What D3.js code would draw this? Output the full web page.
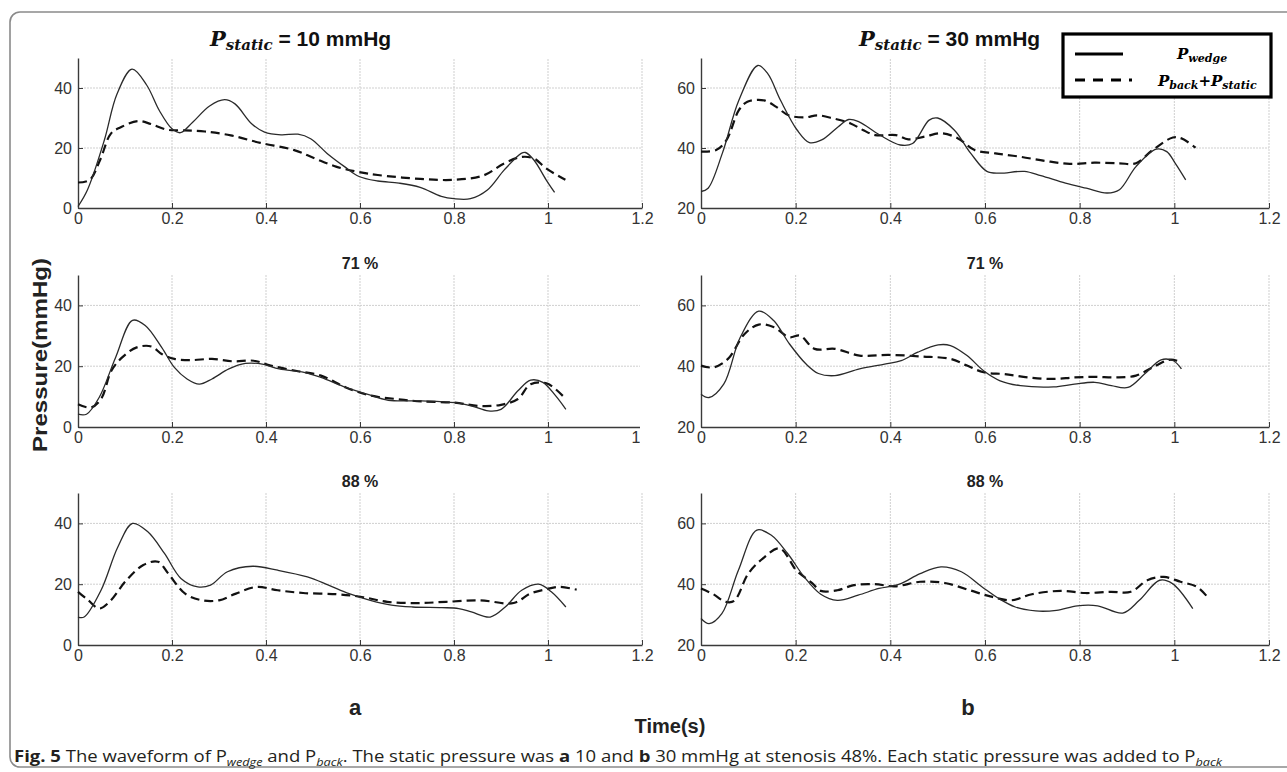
<!DOCTYPE html>
<html><head><meta charset="utf-8">
<script src="https://cdn.jsdelivr.net/npm/d3@7"></script>
<style>body{margin:0;background:#fff}svg{display:block}</style>
</head><body>
<svg id="c" width="1287" height="772"></svg>
<script>
// ---------- DATA ----------
const timeTicks = [0, 0.2, 0.4, 0.6, 0.8, 1, 1.2];
const yTicksA = [0, 20, 40];
const yTicksB = [20, 40, 60];
const yDomainA = [0, 50];
const yDomainB = [20, 70];
const rowTitles = ["", "71 %", "88 %"];
const staticTitles = ["10 mmHg", "30 mmHg"];
const legendLabels = [["P", "wedge"], ["P", "back", "+P", "static"]];

const a1Wedge = [[0,0.5],[0.02,6],[0.056,22.6],[0.083,38],[0.115,46.3],[0.146,41],[0.173,32.5],[0.2,26.4],[0.218,25.1],[0.244,28.6],[0.28,34],[0.312,36.1],[0.334,34.7],[0.37,28],[0.397,25.3],[0.432,24.4],[0.468,24.6],[0.495,23.1],[0.53,18.2],[0.567,13.8],[0.598,10.5],[0.638,9],[0.683,8.3],[0.728,6.9],[0.773,3.9],[0.8,3.1],[0.835,3.1],[0.871,6],[0.907,12.7],[0.943,18.2],[0.952,18.5],[0.97,16],[0.996,9.4],[1.014,5.2]];
const a1Back = [[0,8.5],[0.025,9.4],[0.047,16],[0.07,24.8],[0.092,27],[0.128,29],[0.155,28],[0.19,26.1],[0.226,25.9],[0.27,25.5],[0.325,24.2],[0.388,21.7],[0.46,19.3],[0.504,16.5],[0.549,13.8],[0.594,12.1],[0.638,11],[0.728,9.7],[0.8,9.4],[0.862,10.8],[0.907,14.9],[0.943,17],[0.97,16.5],[0.996,13.2],[1.037,9.4]];
const b1Wedge = [[0,25.5],[0.015,26.6],[0.045,38.2],[0.08,55.9],[0.12,67.5],[0.141,64.8],[0.168,55.9],[0.203,46],[0.229,41.8],[0.255,42.7],[0.29,47.1],[0.312,49.5],[0.334,48.7],[0.377,44.4],[0.421,41],[0.447,41.5],[0.482,49.3],[0.5,50],[0.535,46],[0.57,38.2],[0.604,32.2],[0.63,31.6],[0.683,32.2],[0.718,30.8],[0.77,28.3],[0.814,26.6],[0.858,25],[0.884,26.1],[0.919,33.8],[0.962,39.6],[0.984,38.8],[1.002,34.9],[1.024,29.4]];
const b1Back = [[0,38.8],[0.032,39.3],[0.054,42.7],[0.08,52.6],[0.098,55.4],[0.133,55.9],[0.159,53.7],[0.185,50.9],[0.22,50.2],[0.246,50.9],[0.281,49.8],[0.316,48.2],[0.342,46],[0.368,44.3],[0.412,44.3],[0.438,42.9],[0.473,43.8],[0.508,44.9],[0.543,43.2],[0.578,39.3],[0.622,38.2],[0.674,37.1],[0.727,35.7],[0.779,34.7],[0.831,35.1],[0.884,34.9],[0.919,34.9],[0.954,39.3],[0.997,43.5],[1.015,43.2],[1.045,40.1]];
const a2Wedge = [[0,4.2],[0.018,4.2],[0.045,9.7],[0.08,22.9],[0.116,35.1],[0.143,33.4],[0.178,26.2],[0.205,19.6],[0.232,15.8],[0.258,14.1],[0.285,15.8],[0.321,19.1],[0.356,20.9],[0.392,20.7],[0.428,19.1],[0.481,18],[0.517,16.3],[0.57,13],[0.615,10.8],[0.66,8.8],[0.731,8.6],[0.802,8],[0.838,6.9],[0.873,5.3],[0.9,5.8],[0.936,11.9],[0.963,15.4],[0.989,14.7],[1.016,10.3],[1.038,5.8]];
const a2Back = [[0,7.5],[0.027,6.4],[0.049,9.2],[0.071,18.5],[0.094,22.9],[0.125,26.2],[0.156,26.5],[0.178,24],[0.205,22.4],[0.241,22],[0.285,22.4],[0.33,21.6],[0.374,21.8],[0.41,20.2],[0.463,18.5],[0.517,16.9],[0.57,13],[0.624,10.3],[0.677,9.2],[0.731,8.4],[0.802,8],[0.856,6.9],[0.9,7.3],[0.936,9.2],[0.963,14.1],[0.998,14.3],[1.038,9.2]];
const b2Wedge = [[0,30.8],[0.017,29.7],[0.048,34.1],[0.083,49.5],[0.122,58.1],[0.153,55.1],[0.187,47.3],[0.222,40.7],[0.248,37.6],[0.283,36.9],[0.335,39.1],[0.388,40.7],[0.423,41.8],[0.458,44.6],[0.501,47],[0.527,46.8],[0.562,43.5],[0.597,38.5],[0.632,35.2],[0.675,33.6],[0.745,33.2],[0.789,34.1],[0.832,34.7],[0.867,33.6],[0.902,33],[0.937,37.4],[0.972,42.1],[0.998,41.8],[1.015,39.1]];
const b2Back = [[0,40.2],[0.026,39.6],[0.057,42.4],[0.092,50.6],[0.122,53.7],[0.153,52.9],[0.187,49.5],[0.209,50.1],[0.24,45.7],[0.283,45.7],[0.335,43.5],[0.397,43.7],[0.466,43.2],[0.527,42.4],[0.562,40.2],[0.597,38],[0.641,37.4],[0.693,36.3],[0.745,35.8],[0.789,36.3],[0.832,36.5],[0.876,36.3],[0.919,36.9],[0.954,39.6],[0.989,42.1],[1.006,41.8]];
const a3Wedge = [[0,9.2],[0.013,9.2],[0.049,18],[0.085,32.3],[0.116,40],[0.148,37.3],[0.184,30.1],[0.219,21.9],[0.255,19.1],[0.282,19.7],[0.318,24.1],[0.372,25.9],[0.425,24.6],[0.488,22.4],[0.533,19.7],[0.577,16.9],[0.622,14.7],[0.667,13.1],[0.712,12.5],[0.774,12.3],[0.81,12],[0.837,10.9],[0.877,9.2],[0.909,12.5],[0.944,18],[0.98,20],[1.007,17.5],[1.038,12.5]];
const a3Back = [[0,17.5],[0.022,14.7],[0.045,12],[0.067,14.2],[0.103,21.3],[0.139,26.3],[0.17,27.4],[0.192,23.5],[0.228,16.9],[0.264,14.7],[0.3,14.7],[0.336,16.9],[0.38,19.1],[0.425,18],[0.479,17.1],[0.551,16.7],[0.604,15.8],[0.658,14.2],[0.721,13.8],[0.783,14.2],[0.855,14.7],[0.927,13.8],[0.962,16.9],[0.998,18.4],[1.025,19.1],[1.061,18.2]];
const b3Wedge = [[0,28.7],[0.017,27],[0.044,30.3],[0.079,44.6],[0.118,57.8],[0.148,56.2],[0.183,50.1],[0.218,42.4],[0.253,36.7],[0.288,34.7],[0.332,36.4],[0.376,38.6],[0.419,40],[0.463,43.5],[0.507,45.7],[0.55,44.1],[0.594,39.1],[0.629,35.3],[0.664,32.5],[0.707,31.2],[0.751,31.4],[0.795,32.9],[0.838,32.9],[0.891,30.5],[0.926,34.7],[0.969,41.3],[0.996,40.2],[1.039,32]];
const b3Back = [[0,38.6],[0.026,36.7],[0.052,34.2],[0.07,34.5],[0.1,43.5],[0.131,48.5],[0.166,51.8],[0.201,44.6],[0.218,42.4],[0.236,40.2],[0.253,37.8],[0.288,38],[0.323,39.7],[0.367,40],[0.41,39.3],[0.463,40.8],[0.515,40.4],[0.568,38],[0.611,36],[0.655,34.7],[0.699,36.7],[0.76,37.8],[0.812,37.1],[0.865,37.5],[0.908,37.5],[0.943,41.3],[0.978,42.4],[1.013,40.8],[1.048,39.1],[1.07,35.8]];

// ---------- LAYOUT ----------
const svg = d3.select("#c");
const SANS = "'Liberation Sans', Arial, Helvetica, sans-serif";
const SERIF = "'DejaVu Serif', 'Liberation Serif', serif";
const colX = [[78, 642], [701, 1269]];
const rowY = [[208, 58], [427, 275], [645, 493]];

// outer frame
svg.append("rect").attr("x", 10).attr("y", 12).attr("width", 1320).attr("height", 755)
  .attr("rx", 10).attr("fill", "none").attr("stroke", "#8a8a8a").attr("stroke-width", 1.6);

const panels = [
  {col:0,row:0,wedge:a1Wedge,back:a1Back},
  {col:1,row:0,wedge:b1Wedge,back:b1Back},
  {col:0,row:1,wedge:a2Wedge,back:a2Back},
  {col:1,row:1,wedge:b2Wedge,back:b2Back},
  {col:0,row:2,wedge:a3Wedge,back:a3Back},
  {col:1,row:2,wedge:b3Wedge,back:b3Back}
];

panels.forEach(p => {
  const x = d3.scaleLinear().domain([0, 1.2]).range(colX[p.col]);
  const y = d3.scaleLinear().domain(p.col === 0 ? yDomainA : yDomainB).range(rowY[p.row]);
  const yt = p.col === 0 ? yTicksA : yTicksB;
  const g = svg.append("g");
  if (p.col === 1 && p.row === 1) {
    // figure background of this axes covers neighbour's last tick label
    g.append("rect").attr("x", 640).attr("y", 270).attr("width", 640).attr("height", 180).attr("fill", "#fff");
  }
  // grid
  g.selectAll(".gx").data(timeTicks.slice(1)).join("line")
    .attr("x1", d => x(d)).attr("x2", d => x(d)).attr("y1", y.range()[0]).attr("y2", y.range()[1])
    .attr("stroke", "#cfcfcf").attr("stroke-width", 1).attr("stroke-dasharray", "2,1");
  g.selectAll(".gy").data(yt.slice(1)).join("line")
    .attr("x1", x(0)).attr("x2", x(1.2)).attr("y1", d => y(d)).attr("y2", d => y(d))
    .attr("stroke", "#cfcfcf").attr("stroke-width", 1).attr("stroke-dasharray", "2,1");

  // axes via d3
  const ax = d3.axisBottom(x).tickValues(timeTicks).tickSize(-5).tickSizeOuter(0).tickPadding(5)
    .tickFormat(d => String(+d.toFixed(1)));
  const ay = d3.axisLeft(y).tickValues(yt).tickSize(-5).tickSizeOuter(0).tickPadding(6);
  const gx = g.append("g").attr("transform", `translate(0,${y.range()[0]})`).call(ax);
  const gy = g.append("g").attr("transform", `translate(${x(0)},0)`).call(ay);
  [gx, gy].forEach(a => {
    a.select(".domain").attr("stroke", "#3a3a3a").attr("stroke-width", 1.4);
    a.selectAll(".tick line").attr("stroke", "#3a3a3a");
    a.selectAll(".tick text").attr("fill", "#333").style("font-family", SANS).style("font-size", "16px");
  });

  // lines
  const line = d3.line().x(d => x(d[0])).y(d => y(d[1])).curve(d3.curveCatmullRom.alpha(0.5));
  g.append("path").datum(p.back).attr("d", line).attr("fill", "none")
    .attr("stroke", "#111").attr("stroke-width", 2.2).attr("stroke-dasharray", "9,5");
  g.append("path").datum(p.wedge).attr("d", line).attr("fill", "none")
    .attr("stroke", "#2a2a2a").attr("stroke-width", 1.3);

  // titles
  const cx = (colX[p.col][0] + colX[p.col][1]) / 2;
  if (p.row > 0) {
    svg.append("text").attr("x", cx).attr("y", rowY[p.row][1] - 6).attr("text-anchor", "middle")
      .style("font-family", SANS).style("font-weight", "bold").style("font-size", "16px")
      .attr("fill", "#222").text(rowTitles[p.row]);
  }
});

// main titles with math
[[210, staticTitles[0]], [859, staticTitles[1]]].forEach(([tx, txt]) => {
  const t = svg.append("text").attr("x", tx).attr("y", 46).attr("fill", "#111");
  t.append("tspan").text("P").style("font-family", SERIF).style("font-style", "italic")
    .style("font-weight", "bold").style("font-size", "21px");
  t.append("tspan").text("static").attr("dy", 4).style("font-family", SERIF).style("font-style", "italic")
    .style("font-weight", "bold").style("font-size", "15px");
  t.append("tspan").text(" = " + txt).attr("dy", -4).style("font-family", SANS)
    .style("font-weight", "bold").style("font-size", "21px");
});

// legend
const lg = svg.append("g");
lg.append("rect").attr("x", 1063).attr("y", 34).attr("width", 208).attr("height", 63)
  .attr("fill", "#fff").attr("stroke", "#000").attr("stroke-width", 3.2);
lg.append("line").attr("x1", 1075).attr("x2", 1123).attr("y1", 54).attr("y2", 54)
  .attr("stroke", "#000").attr("stroke-width", 3.2);
lg.append("line").attr("x1", 1075).attr("x2", 1132).attr("y1", 80).attr("y2", 80)
  .attr("stroke", "#000").attr("stroke-width", 3.2).attr("stroke-dasharray", "10,8");
function mathText(x, yb, parts) {
  const t = lg.append("text").attr("x", x).attr("y", yb).attr("fill", "#000")
    .style("font-family", SERIF).style("font-style", "italic").style("font-weight", "bold");
  parts.forEach((s, i) => {
    const isSub = i % 2 === 1;
    t.append("tspan").text(s).attr("dy", i === 0 ? 0 : (isSub ? 3 : -3))
      .style("font-size", isSub ? "11px" : "15px");
  });
}
mathText(1177, 59, legendLabels[0]);
mathText(1158, 86, legendLabels[1]);

// axis labels
svg.append("text").attr("transform", "translate(47,355) rotate(-90)").attr("text-anchor", "middle")
  .attr("textLength", 194).attr("lengthAdjust", "spacingAndGlyphs")
  .style("font-family", SANS).style("font-weight", "bold").style("font-size", "20px").attr("fill", "#222")
  .text("Pressure(mmHg)");
svg.append("text").attr("x", 670).attr("y", 733).attr("text-anchor", "middle")
  .style("font-family", SANS).style("font-weight", "bold").style("font-size", "20px").attr("fill", "#222")
  .text("Time(s)");
[["a", 355], ["b", 968]].forEach(([s, xx]) => {
  svg.append("text").attr("x", xx).attr("y", 715).attr("text-anchor", "middle")
    .style("font-family", SANS).style("font-weight", "bold").style("font-size", "22px").attr("fill", "#222").text(s);
});

// caption
const cap = svg.append("text").attr("x", 14).attr("y", 762).attr("fill", "#231f20")
  .attr("textLength", 1208).attr("lengthAdjust", "spacingAndGlyphs")
  .style("font-family", "'Open Sans', 'Noto Sans', sans-serif").style("font-size", "16px");
const capParts = [
  ["Fig. 5", "b", 0], ["  The waveform of P", "", 0], ["wedge", "i", 4], [" and P", "", -4], ["back", "i", 4],
  [". The static pressure was ", "", -4], ["a", "b", 0], [" 10 and ", "", 0], ["b", "b", 0],
  [" 30 mmHg at stenosis 48%. Each static pressure was added to P", "", 0], ["back", "i", 4]
];
capParts.forEach(([s, st, dy]) => {
  const ts = cap.append("tspan").text(s).attr("dy", dy);
  if (st === "b") ts.style("font-weight", "bold");
  if (st === "i") ts.style("font-style", "italic").style("font-size", "11px");
});
</script>
</body></html>
